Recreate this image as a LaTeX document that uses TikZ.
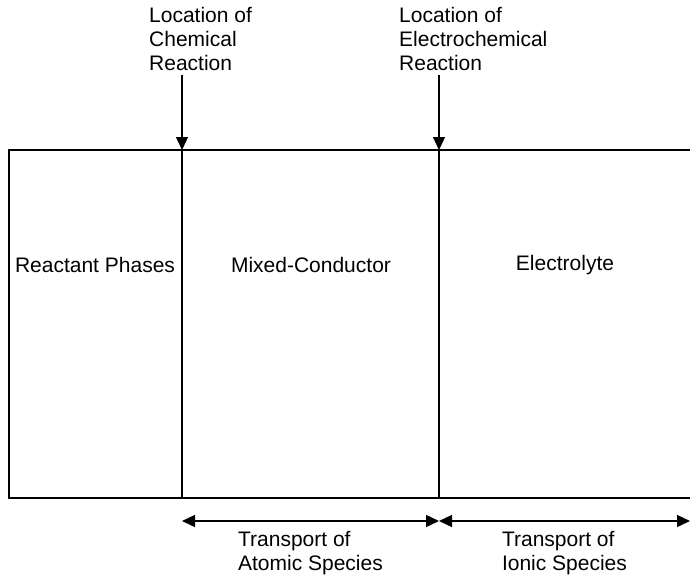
\documentclass[tikz,border=0pt]{standalone}
\usepackage{fontspec}
\setmainfont{Liberation Sans}
\usetikzlibrary{arrows.meta,positioning}

\tikzset{
	txt/.style={font=\fontsize{21}{24}\selectfont, align=left, inner sep=0pt},
	wall/.style={line width=1.8pt},
	marker/.style={-{Triangle[length=13pt,width=12pt]}, line width=1.4pt},
	span/.style={{Triangle[length=13pt,width=12pt]}-{Triangle[length=13pt,width=12pt]}, line width=1.4pt},
}

\begin{document}
\begin{tikzpicture}[x=1pt,y=-1pt]
	\useasboundingbox (0,0) rectangle (690,575);

		% --- Cell Outline ---
		\coordinate (chemTop) at (182,150);
		\coordinate (elecTop) at (439,150);
		\draw[wall] (690,150) -- (9,150) -- (9,498) -- (690,498);
		\draw[wall] (chemTop) -- (182,498);
		\draw[wall] (elecTop) -- (439,498);

		% --- Phases ---
		\foreach \x/\name/\label in {95/react/Reactant Phases, 311/mixed/Mixed-Conductor, 565/elyte/Electrolyte} {
			\node[txt] (\name) at (\x,265) {\label};
		}

		% --- Reaction Sites ---
		\node[txt, anchor=north west] (chem) at (149,7) {Location of\\Chemical\\Reaction};
		\node[txt, anchor=north west] (elec) at (399,7) {Location of\\Electrochemical\\Reaction};
		\draw[marker] (chem.south -| chemTop) ++(0,4) -- (chemTop);
		\draw[marker] (elec.south -| elecTop) ++(0,4) -- (elecTop);

		% --- Transport ---
		\coordinate (atomL) at (182,521);
		\coordinate (mid) at (439,521);
		\coordinate (ionR) at (690,521);
		\draw[span] (atomL) -- (mid) node[txt, midway, below=10pt] (atomic) {Transport of\\Atomic Species};
		\draw[span] (mid) -- (ionR) node[txt, midway, below=10pt] (ionic) {Transport of\\Ionic Species};

	\end{tikzpicture}
\end{document}
